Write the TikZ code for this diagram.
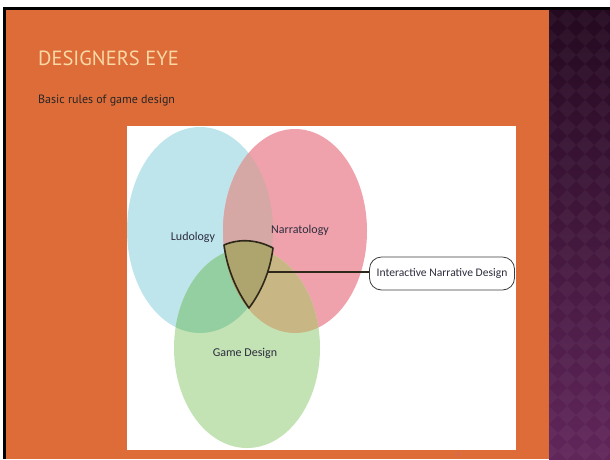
\documentclass[tikz,border=0pt]{standalone}
\usepackage{fontspec}
\setmainfont{PT Sans}
\newfontfamily\venfont{Carlito}
\usetikzlibrary{positioning}

\definecolor{slideorange}{RGB}{221,108,56}
\definecolor{purpletop}{RGB}{36,9,32}
\definecolor{purplebot}{RGB}{96,38,90}
\definecolor{titlecol}{RGB}{250,216,165}
\definecolor{pagecol}{RGB}{190,95,170}
\definecolor{venblue}{RGB}{190,228,236}
\definecolor{venpink}{RGB}{239,162,172}
\definecolor{vengreen}{RGB}{196,227,180}
\definecolor{venbp}{RGB}{214,168,165}
\definecolor{venbg}{RGB}{148,207,162}
\definecolor{venpg}{RGB}{200,183,132}
\definecolor{ventri}{RGB}{174,164,110}
\definecolor{trioutline}{RGB}{45,40,25}
\definecolor{vantext}{RGB}{45,45,62}
\definecolor{boxline}{RGB}{60,60,60}

\tikzset{
  venlabel/.style={font=\venfont\fontsize{12}{14}\selectfont, text=vantext},
  indbox/.style={draw=boxline, fill=white, rounded corners=12pt, line width=0.8pt,
    minimum width=145pt, minimum height=33pt, inner sep=0pt,
    font=\venfont\fontsize{11.6}{13}\selectfont, text=vantext},
}

\begin{document}
\begin{tikzpicture}[x=1pt,y=-1pt]
  \useasboundingbox (0,0) rectangle (610,459);
  % Frame and slide background
  \fill[white] (0,0) rectangle (610,459);
  \fill[black] (3,7) rectangle (610,459);
  \fill[slideorange] (6,10) rectangle (549,459);
  \shade[top color=purpletop, bottom color=purplebot] (549,10) rectangle (610,459);
  % Diamond pattern on the side panel
  \begin{scope}
    \clip (549,10) rectangle (610,459);
    \foreach \i in {0,...,4}
      \foreach \j in {0,...,26}
        \fill[white, opacity=0.04] ({549+18*\i},{10+18*\j}) -- ++(9,9) -- ++(-9,9) -- ++(-9,-9) -- cycle;
  \end{scope}
  % Title and subtitle
  \node[anchor=base west, inner sep=0pt, font=\fontsize{20.5}{22}\selectfont, text=titlecol] (title) at (38,65) {DESIGNERS EYE};
  \node[anchor=base west, inner sep=0pt, font=\fontsize{12}{14}\selectfont, text=black!85] (subtitle) at (38,103) {Basic rules of game design};
  % Picture area
  \fill[white] (127,126) rectangle (516,450);
  \begin{scope}
    \clip (127,126) rectangle (516,450);
    % Three sets
    \fill[venblue] (200,230) ellipse [x radius=73, y radius=103];
    \fill[venpink] (295,231) ellipse [x radius=72, y radius=102];
    \fill[vengreen] (247,348) ellipse [x radius=73, y radius=100];
    % Pairwise overlaps
    \begin{scope}
      \clip (200,230) ellipse [x radius=73, y radius=103];
      \fill[venbp] (295,231) ellipse [x radius=72, y radius=102];
      \fill[venbg] (247,348) ellipse [x radius=73, y radius=100];
    \end{scope}
    \begin{scope}
      \clip (295,231) ellipse [x radius=72, y radius=102];
      \fill[venpg] (247,348) ellipse [x radius=73, y radius=100];
    \end{scope}
    \begin{scope}
      \clip (200,230) ellipse [x radius=73, y radius=103];
      \clip (295,231) ellipse [x radius=72, y radius=102];
      \fill[ventri] (247,348) ellipse [x radius=73, y radius=100];
    \end{scope}
  \end{scope}
  % Common core, outlined
  \filldraw[fill=ventri, draw=trioutline, line width=1.6pt, line join=round]
    (224,245) .. controls (240,238) and (258,240) .. (273,248)
    .. controls (270,272) and (261,292) .. (249,308)
    .. controls (236,290) and (227,268) .. (224,245) -- cycle;
  \coordinate (joint) at (268,272);
  % Labels
  \node[venlabel] (ludo) at (193,237) {Ludology};
  \node[venlabel] (narra) at (300,230) {Narratology};
  \node[venlabel] (game) at (245,353) {Game Design};
  \node[indbox] (ind) at (442,273.5) {Interactive Narrative Design};
  \draw[draw=trioutline, line width=1.3pt] (joint) -- (joint -| ind.west);
  % Slide number
  \node[font=\fontsize{5}{6}\selectfont, text=pagecol] (pagenum) at (458,455) {5};
\end{tikzpicture}
\end{document}
